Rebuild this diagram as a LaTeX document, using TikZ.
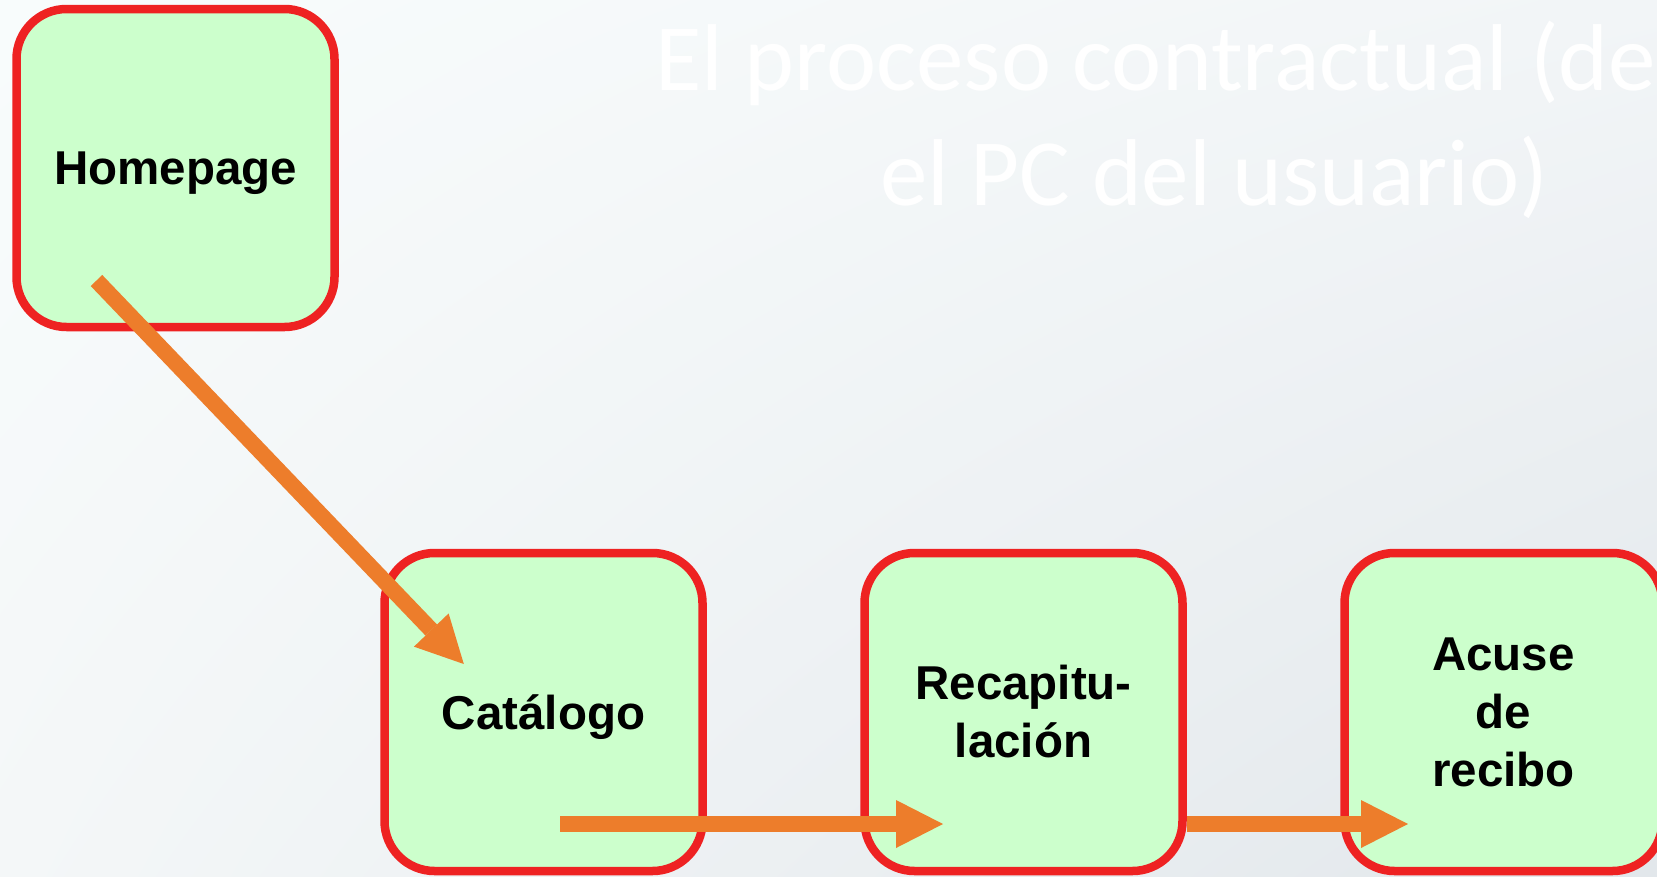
\documentclass[tikz,border=0pt]{standalone}
\usepackage{fontspec}
\setmainfont{Liberation Sans}
\newfontfamily\titlefont{Carlito}
\usetikzlibrary{arrows.meta,calc,shadings}
\definecolor{boxred}{HTML}{EE2222}
\definecolor{boxfill}{HTML}{CCFFCC}
\definecolor{arrorange}{HTML}{ED7D2B}
\definecolor{bgA}{HTML}{F8FCFC}
\definecolor{bgB}{HTML}{F2F5F7}
\definecolor{bgC}{HTML}{F4F7F8}
\definecolor{bgD}{HTML}{E2E7EB}
\begin{document}
\begin{tikzpicture}[x=1pt,y=-1pt,
  box/.style={draw=boxred,fill=boxfill,line width=8.5pt,rounded corners=50pt,
    minimum width=318pt,minimum height=318pt,inner sep=0pt,align=center,
    font=\bfseries\fontsize{47.5}{58}\selectfont},
  oneline/.style={text depth=0pt},
  flow/.style={draw=arrorange,line width=16pt,
    -{Triangle[length=47pt,width=48pt,line width=0pt]}},
  titletext/.style={text=white,inner sep=0pt,font=\titlefont\fontsize{95}{115}\selectfont}]
\useasboundingbox (0,0) rectangle (1657,876);
\shade[upper left=bgA, upper right=bgB, lower left=bgC, lower right=bgD] (0,0) rectangle (1657,876);
\node[titletext,anchor=base west] (t1) at (655,90) {El proceso contractual (de};
\node[titletext,anchor=base] (t2) at (1214.5,205) {el PC del usuario)};
\node[box,oneline] (home) at (175.5,168) {Homepage};
\node[box,oneline] (cat) at (543.5,712) {Catálogo};
\node[box] (recap) at (1023.5,712) {Recapitu-\\lación};
\node[box] (acuse) at (1503.5,712) {Acuse\\de\\recibo};
\coordinate (h1) at (96.5,280.5);
\coordinate (c2) at (463.8,664);
\coordinate (c1) at (560,824);
\coordinate (r1) at (943,824);
\coordinate (a1) at (1408,824);
\draw[flow] (h1) -- (c2);
\draw[flow] (c1) -- (r1);
\draw[flow] (recap.east |- r1) -- (a1);
\end{tikzpicture}
\end{document}
